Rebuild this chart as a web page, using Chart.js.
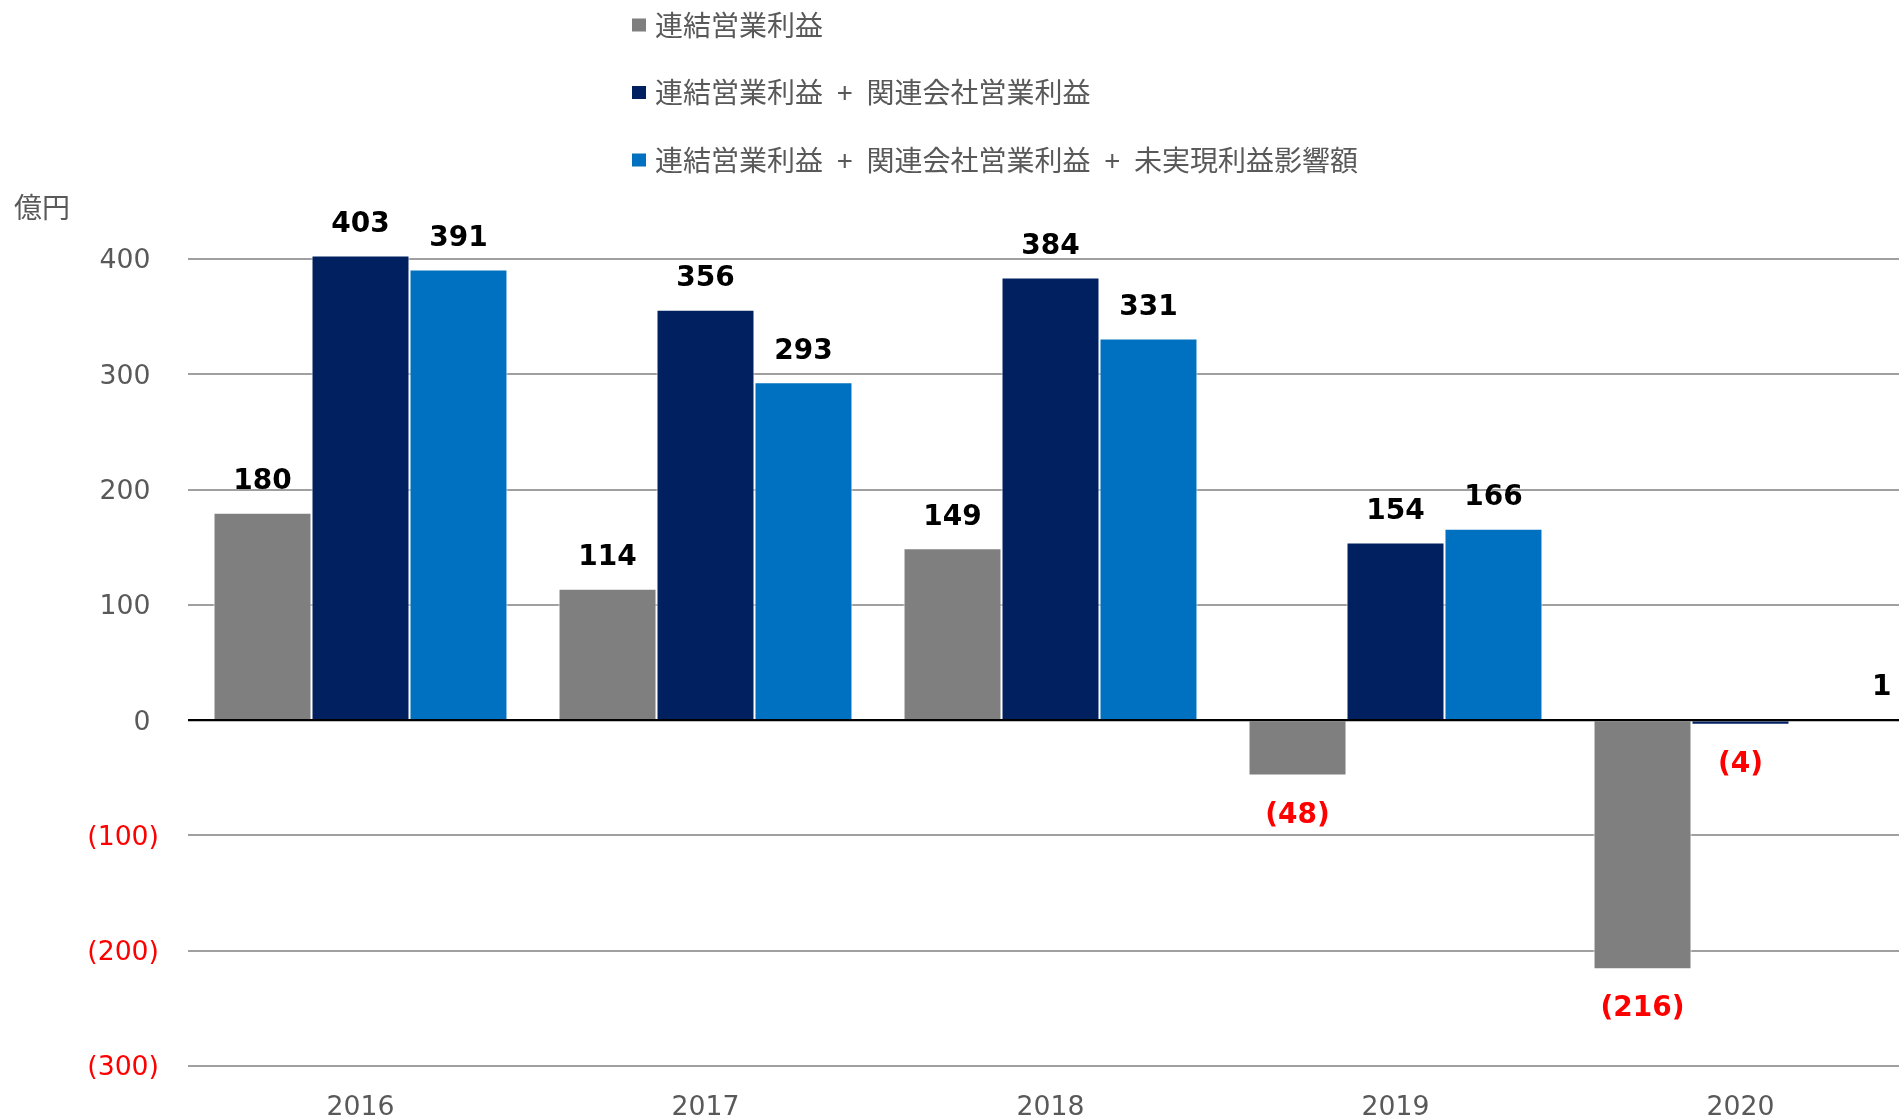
<!DOCTYPE html>
<html lang="ja">
<head>
<meta charset="utf-8">
<title>営業利益の推移</title>
<script src="https://cdn.jsdelivr.net/npm/chart.js@4.4.1/dist/chart.umd.min.js"></script>
<style>
  html, body { margin: 0; padding: 0; background: #ffffff; overflow: hidden; }
  #wrap { position: relative; width: 1913px; height: 1120px; }
</style>
</head>
<body>
<div id="wrap">
  <canvas id="profitChart" width="1913" height="1120"></canvas>
</div>
<script>
"use strict";

// Data
const years = ["2016", "2017", "2018", "2019", "2020"];
const consolidated = [180, 114, 149, -48, -216];
const withAffiliates = [403, 356, 384, 154, -4];
const withUnrealized = [391, 293, 331, 166, 1];

const seriesNames = [
  "連結営業利益",
  "連結営業利益\u2002+\u2002関連会社営業利益",
  "連結営業利益\u2002+\u2002関連会社営業利益\u2002+\u2002未実現利益影響額",
];
const seriesColors = ["#7f7f7f", "#002060", "#0070c0"];

const yTicks = { min: -300, max: 400, step: 100 };
const unitLabel = "億円";

const TEXT_GRAY = "#595959";
const NEG_RED = "#ff0000";
const JP_FONT = '"Noto Sans CJK JP", "Noto Sans", sans-serif';
const NUM_FONT = '"DejaVu Sans", Verdana, sans-serif';

// Format numbers with parentheses for negatives
function fmt(v) {
  return v < 0 ? `(${Math.abs(v)})` : `${v}`;
}

// Legend, unit and value labels drawn on top of the chart
const overlayPlugin = {
  id: "overlay",
  afterDatasetsDraw(chart) {
    const ctx = chart.ctx;
    const { left, right } = chart.chartArea;
    const y0 = chart.scales.y.getPixelForValue(0);

    // zero line over the bars
    ctx.save();
    ctx.strokeStyle = "#000000";
    ctx.lineWidth = 2;
    ctx.beginPath();
    ctx.moveTo(left, y0);
    ctx.lineTo(right, y0);
    ctx.stroke();
    ctx.restore();

    // value labels (kept inside the visible page at the right edge)
    const viewRight = window.innerWidth;
    ctx.save();
    ctx.font = `bold 28px ${NUM_FONT}`;
    ctx.textBaseline = "middle";
    chart.data.datasets.forEach((ds, i) => {
      const meta = chart.getDatasetMeta(i);
      meta.data.forEach((bar, j) => {
        const v = ds.data[j];
        const text = fmt(v);
        const barRight = bar.x + bar.width / 2;
        let x = bar.x;
        ctx.textAlign = "center";
        if (barRight > viewRight - 20) {
          ctx.textAlign = "right";
          x = Math.min(barRight + 4, viewRight - 6);
        }
        const y = v < 0 ? bar.y + 40 : bar.y - 31;
        ctx.fillStyle = v < 0 ? NEG_RED : "#000000";
        ctx.fillText(text, x, y);
      });
    });
    ctx.restore();
  },
  afterDraw(chart) {
    const ctx = chart.ctx;
    ctx.save();
    ctx.font = `28px ${JP_FONT}`;
    ctx.textBaseline = "middle";
    ctx.fillStyle = TEXT_GRAY;
    ctx.fillText(unitLabel, 14, 207);

    // legend, one item per row
    chart.data.datasets.forEach((ds, i) => {
      const cy = 25 + i * 67.5;
      ctx.fillStyle = ds.backgroundColor;
      ctx.fillRect(632, cy - 6.5, 14, 13);
      ctx.fillStyle = TEXT_GRAY;
      ctx.fillText(ds.label, 655, cy);
    });
    ctx.restore();
  },
};

const ctx = document.getElementById("profitChart").getContext("2d");

const profitChart = new Chart(ctx, {
  type: "bar",
  data: {
    labels: years,
    datasets: [consolidated, withAffiliates, withUnrealized].map((vals, i) => ({
      label: seriesNames[i],
      data: vals,
      backgroundColor: seriesColors[i],
      borderColor: "#ffffff",
      borderWidth: 1,
      categoryPercentage: 0.852,
      barPercentage: 1.0,
      clip: false,
    })),
  },
  options: {
    responsive: false,
    animation: false,
    layout: {
      padding: { top: 259, left: 0, right: 0, bottom: 0 },
    },
    plugins: {
      legend: { display: false },
      tooltip: { enabled: false },
    },
    scales: {
      x: {
        grid: { display: false, drawTicks: false },
        border: { display: false },
        ticks: {
          color: TEXT_GRAY,
          padding: 26,
          font: { family: NUM_FONT, size: 26.7 },
        },
        afterFit: (scale) => {
          scale.height = 54;
        },
      },
      y: {
        min: yTicks.min,
        max: yTicks.max,
        border: { display: false },
        grid: {
          drawTicks: false,
          lineWidth: 2,
          color: (c) => (c.tick && c.tick.value === 0 ? "#000000" : "#a0a0a0"),
        },
        ticks: {
          stepSize: yTicks.step,
          padding: 29,
          labelOffset: 2.5,
          font: { family: NUM_FONT, size: 26.7 },
          color: (c) => (c.tick.value < 0 ? NEG_RED : TEXT_GRAY),
          callback: (v) => (v < 0 ? fmt(v) : `${v} `),
        },
        afterFit: (scale) => {
          scale.width = 188;
        },
      },
    },
  },
  plugins: [overlayPlugin],
});
</script>
</body>
</html>
